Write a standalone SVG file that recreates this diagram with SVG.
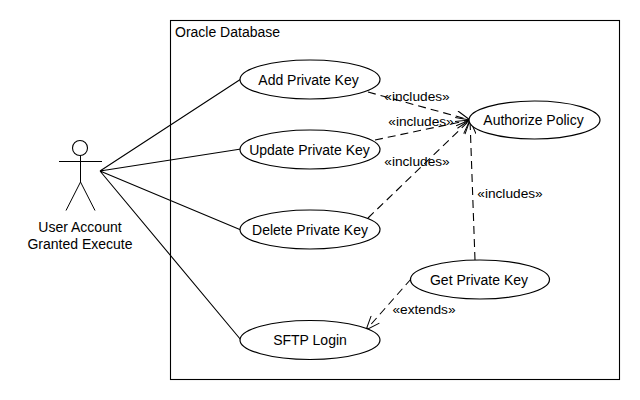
<svg xmlns="http://www.w3.org/2000/svg" width="640" height="400" viewBox="0 0 640 400">
<defs>
<marker id="open" viewBox="0 0 16 12" refX="15" refY="6" markerWidth="16" markerHeight="12" markerUnits="userSpaceOnUse" orient="auto"><path d="M1 0.500L15 6L1 11.500" fill="none" stroke="#000" stroke-width="1"/></marker>
</defs>
<style>
text{font-family:"Liberation Sans",Arial,sans-serif;font-size:14px;fill:#000;text-anchor:middle}
.lb{font-size:13.700px}
.uc{fill:#fff;stroke:#000;stroke-width:1.200}
.l{fill:none;stroke:#000;stroke-width:1.100}
.d{fill:none;stroke:#000;stroke-width:1.100;stroke-dasharray:8 5;marker-end:url(#open)}
.p{fill:none;stroke:#000;stroke-width:1}
</style>
<rect width="640" height="400" fill="#fff"/>
<g id="system"><rect x="170.500" y="20.500" width="449" height="359" fill="#fff" stroke="#000" stroke-width="1.100"/><text x="175" y="37" style="text-anchor:start">Oracle Database</text></g>
<g id="connectors">
<path class="l" d="M100 171L241 79M100 171L241 149M100 171L241 230M100 171L241 340"/>
<path class="d" d="M368 92L470 120"/>
<path class="d" d="M375 140L470 120"/>
<path class="d" d="M368 218L470 120"/>
<path class="d" d="M475 260L470 120"/>
<path class="d" d="M411 279L366 330"/>
</g>
<g id="actor"><circle cx="80" cy="148" r="7.500" fill="#fff" stroke="#000" stroke-width="1.100"/><path class="p" d="M80.500 155.500V182M59 161.500H102M80.500 182L66 210.500M80.500 182L95 210.500"/><text x="80" y="232">User Account</text><text x="80" y="249">Granted Execute</text></g>
<g id="add"><ellipse class="uc" cx="310" cy="79.500" rx="70" ry="19.500"/><text x="308.500" y="85">Add Private Key</text></g>
<g id="update"><ellipse class="uc" cx="310" cy="149.500" rx="70" ry="19.500"/><text x="309.500" y="155">Update Private Key</text></g>
<g id="delete"><ellipse class="uc" cx="310" cy="229.500" rx="70" ry="19.500"/><text x="310" y="235">Delete Private Key</text></g>
<g id="sftp"><ellipse class="uc" cx="310" cy="340" rx="70" ry="19.500"/><text x="310" y="345">SFTP Login</text></g>
<g id="authorize"><ellipse class="uc" cx="534.500" cy="120" rx="65.500" ry="19"/><text x="533.500" y="125">Authorize Policy</text></g>
<g id="get"><ellipse class="uc" cx="480" cy="279.500" rx="69.500" ry="19.500"/><text x="479" y="285">Get Private Key</text></g>
<g id="labels"><text class="lb" x="417" y="101">«includes»</text><text class="lb" x="421" y="126">«includes»</text><text class="lb" x="417" y="166">«includes»</text><text class="lb" x="510" y="198">«includes»</text><text class="lb" x="424" y="314">«extends»</text></g>
</svg>
